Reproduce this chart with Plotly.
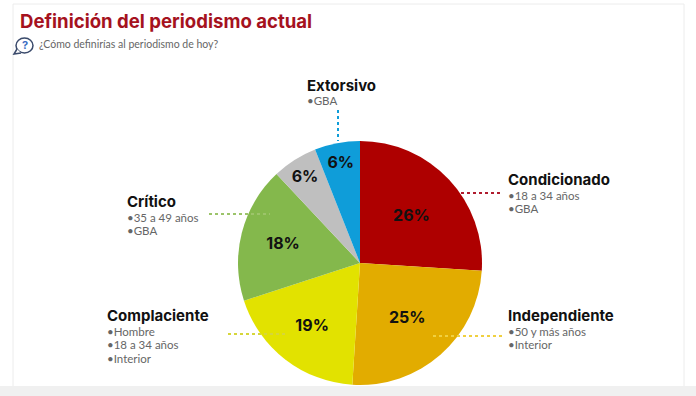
import plotly.graph_objects as go

order_labels = ["Condicionado", "Independiente", "Complaciente", "Crítico", "Otros", "Extorsivo"]
values = [26, 25, 19, 18, 6, 6]
colors = ["#AE0000", "#E2AC00", "#E2E200", "#84B84C", "#BFBFBF", "#0F9DD9"]

title = "Definición del periodismo actual"
question = "¿Cómo definirías al periodismo de hoy?"
W, H = 696, 396
BODY = "Lato"
HEAD = "Inter"

cx, cy, r = 360, 263, 122

fig = go.Figure(go.Pie(
    labels=order_labels, values=values, sort=False, direction="clockwise", rotation=0,
    marker=dict(colors=colors, line=dict(width=0)),
    textinfo="percent", textposition="inside", insidetextorientation="horizontal",
    textfont=dict(family=HEAD, size=16, color="#111111", weight="bold"),
    showlegend=False, hoverinfo="label+percent",
    domain=dict(x=[(cx - r) / W, (cx + r) / W], y=[1 - (cy + r) / H, 1 - (cy - r) / H]),
))

def px(x): return x / W
def py(y): return 1 - y / H

shapes = [
    dict(type="rect", xref="paper", yref="paper", x0=0, x1=1, y0=0, y1=py(386),
         fillcolor="#F0F0F0", line_width=0, layer="below"),
    dict(type="line", xref="paper", yref="paper", x0=px(13), x1=px(13), y0=py(386), y1=py(4),
         line=dict(color="#ECECEC", width=1), layer="below"),
    dict(type="line", xref="paper", yref="paper", x0=px(684), x1=px(684), y0=py(386), y1=py(4),
         line=dict(color="#ECECEC", width=1), layer="below"),
    dict(type="line", xref="paper", yref="paper", x0=px(13), x1=px(684), y0=py(4), y1=py(4),
         line=dict(color="#ECECEC", width=1), layer="below"),
    dict(type="circle", xref="paper", yref="paper", x0=px(16), x1=px(33), y0=py(53), y1=py(38),
         line=dict(color="#3A4A6B", width=1.5), fillcolor="white", layer="below"),
    dict(type="path", xref="paper", yref="paper", layer="below",
         path=f"M {px(17)} {py(49)} L {px(14)} {py(54)} L {px(21)} {py(53)}",
         line=dict(color="#3A4A6B", width=1.5), fillcolor="white"),
]
leaders = [
    (338, 110, 338, 141, "#0F9DD9"),
    (461, 193, 502, 193, "#B01C2E"),
    (209, 214, 270, 214, "#9CC46A"),
    (228, 334, 285, 334, "#D6D63A"),
    (433, 336, 502, 336, "#F0D040"),
]
for x0, y0, x1, y1, c in leaders:
    shapes.append(dict(type="line", xref="paper", yref="paper", x0=px(x0), x1=px(x1), y0=py(y0), y1=py(y1),
                       line=dict(color=c, width=2, dash="dot")))

def note(x, y, text, size, color, family=BODY, bold=False):
    return dict(xref="paper", yref="paper", x=px(x - 2), y=py(y), xanchor="left", yanchor="middle",
                text=f"<b>{text}</b>" if bold else text, showarrow=False, align="left",
                font=dict(family=family, size=size, color=color))

GREY = "#666666"
BLACK = "#111111"
anns = [
    note(20, 21, title, 18.6, "#A5121E", HEAD, True),
    note(39, 44, question, 10.5, GREY),
    dict(xref="paper", yref="paper", x=px(24.5), y=py(45), xanchor="center", yanchor="middle",
         text="<b>?</b>", showarrow=False, font=dict(family=HEAD, size=11, color="#3B6FC4")),
]
blocks = [
    (307, 85, "Extorsivo", ["GBA"]),
    (508, 179, "Condicionado", ["18 a 34 años", "GBA"]),
    (127, 201, "Crítico", ["35 a 49 años", "GBA"]),
    (107, 315, "Complaciente", ["Hombre", "18 a 34 años", "Interior"]),
    (508, 315, "Independiente", ["50 y más años", "Interior"]),
]
for x, y, head, items in blocks:
    anns.append(note(x, y, head, 15, BLACK, HEAD, True))
    for i, t in enumerate(items):
        anns.append(note(x, y + 16 + 13.5 * i, "•" + t, 11.5, GREY))

fig.update_layout(width=W, height=H, margin=dict(l=0, r=0, t=0, b=0),
                  paper_bgcolor="white", shapes=shapes, annotations=anns)
fig.write_html("out.html", post_script="document.body.style.margin='0';",
               config=dict(displayModeBar=False))
